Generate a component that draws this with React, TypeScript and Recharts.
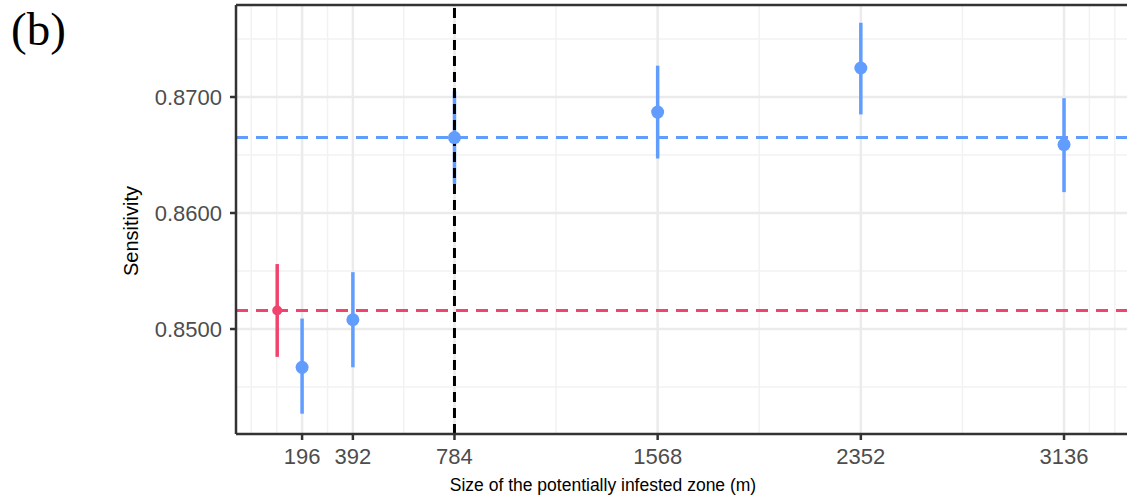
import React from 'react';
import {
  ComposedChart,
  Scatter,
  ErrorBar,
  XAxis,
  YAxis,
  ReferenceLine,
} from 'recharts';

// zone sizes (m) and sensitivity estimates with 95% bounds
const sizes = [196, 392, 784, 1568, 2352, 3136];
const sensitivity = [0.8467, 0.8508, 0.8665, 0.8687, 0.8725, 0.8659];
const lower = [0.8427, 0.8467, 0.8625, 0.8647, 0.8685, 0.8618];
const upper = [0.8509, 0.8549, 0.8705, 0.8727, 0.8764, 0.8699];

// reference (baseline) estimate, drawn in red at the left
const baseX = [100];
const baseSens = [0.8516];
const baseLower = [0.8476];
const baseUpper = [0.8556];

const meanSens = 0.8665;
const chosenSize = 784;

const xTicks = [196, 392, 784, 1568, 2352, 3136];
const xMinor = [0, 98, 294, 588, 1176, 1960, 2744, 3234, 3332];
const yTicks = [0.85, 0.86, 0.87];
const yMinor = [0.845, 0.855, 0.865, 0.875];

const blue = '#619CFF';
const red = '#F2436F';
const font = '"Liberation Sans", Arial, sans-serif';

const blueData = sizes.map((s, i) => ({
  x: s,
  y: sensitivity[i],
  err: [sensitivity[i] - lower[i], upper[i] - sensitivity[i]],
}));

const redData = baseX.map((s, i) => ({
  x: s,
  y: baseSens[i],
  err: [baseSens[i] - baseLower[i], baseUpper[i] - baseSens[i]],
}));

const Dot = (r: number, fill: string) => (props: any) => (
  <circle cx={props.cx} cy={props.cy} r={r} fill={fill} />
);

const XTitle = () => (
  <text x={603} y={491} textAnchor="middle" fontFamily={font} fontSize={17.5} fill="#000">
    Size of the potentially infested zone (m)
  </text>
);

const YTitle = () => (
  <text
    x={131}
    y={231}
    transform="rotate(-90 131 231)"
    textAnchor="middle"
    dominantBaseline="central"
    fontFamily={font}
    fontSize={20}
    fill="#000"
  >
    Sensitivity
  </text>
);

export default function App() {
  return (
    <div style={{ position: 'absolute', left: 0, top: 0, width: 1127, height: 499, background: '#fff', overflow: 'hidden' }}>
      <div style={{ position: 'absolute', left: 11, top: 0, fontFamily: '"Liberation Serif", "Times New Roman", serif', fontSize: 47, lineHeight: '58px' }}>
        (b)
      </div>
      <ComposedChart
        width={1127}
        height={499}
        margin={{ top: 5, right: 0, bottom: 0, left: 0 }}
        style={{ position: 'absolute', left: 0, top: 0 }}
      >
        <XAxis
          type="number"
          dataKey="x"
          domain={[-59, 3379]}
          ticks={xTicks}
          allowDataOverflow
          height={65}
          tickSize={6}
          tickMargin={8}
          tick={{ fontFamily: font, fontSize: 22, fill: '#4D4D4D' }}
          stroke="#333"
          strokeWidth={2.5}
          label={<XTitle />}
        />
        <YAxis
          type="number"
          dataKey="y"
          domain={[0.84095, 0.87793]}
          ticks={yTicks}
          allowDataOverflow
          width={236}
          tickSize={6}
          tickMargin={8}
          tickFormatter={(v: number) => v.toFixed(4)}
          tick={{ fontFamily: font, fontSize: 22, fill: '#4D4D4D' }}
          stroke="#333"
          strokeWidth={2.5}
          label={<YTitle />}
        />

        {yMinor.map((v) => (
          <ReferenceLine key={'ym' + v} y={v} stroke="#F2F2F2" strokeWidth={1.5} />
        ))}
        {xMinor.map((v) => (
          <ReferenceLine key={'xm' + v} x={v} stroke="#F2F2F2" strokeWidth={1.5} />
        ))}
        {yTicks.map((v) => (
          <ReferenceLine key={'yM' + v} y={v} stroke="#EBEBEB" strokeWidth={2.5} />
        ))}
        {xTicks.map((v) => (
          <ReferenceLine key={'xM' + v} x={v} stroke="#EBEBEB" strokeWidth={2.5} />
        ))}

        <ReferenceLine y={meanSens} stroke={blue} strokeWidth={3} strokeDasharray="12 8" />
        <ReferenceLine y={baseSens[0]} stroke={red} strokeWidth={3} strokeDasharray="12 8" />

        <Scatter data={redData} fill={red} shape={Dot(5, red)} isAnimationActive={false}>
          <ErrorBar dataKey="err" direction="y" width={0} stroke={red} strokeWidth={3.5} />
        </Scatter>
        <Scatter data={blueData} fill={blue} shape={Dot(6.5, blue)} isAnimationActive={false}>
          <ErrorBar dataKey="err" direction="y" width={0} stroke={blue} strokeWidth={3.5} />
        </Scatter>

        <ReferenceLine x={chosenSize} stroke="#000" strokeWidth={3} strokeDasharray="10 6" />
        <ReferenceLine y={0.87793} stroke="#333" strokeWidth={2.5} />
      </ComposedChart>
    </div>
  );
}
